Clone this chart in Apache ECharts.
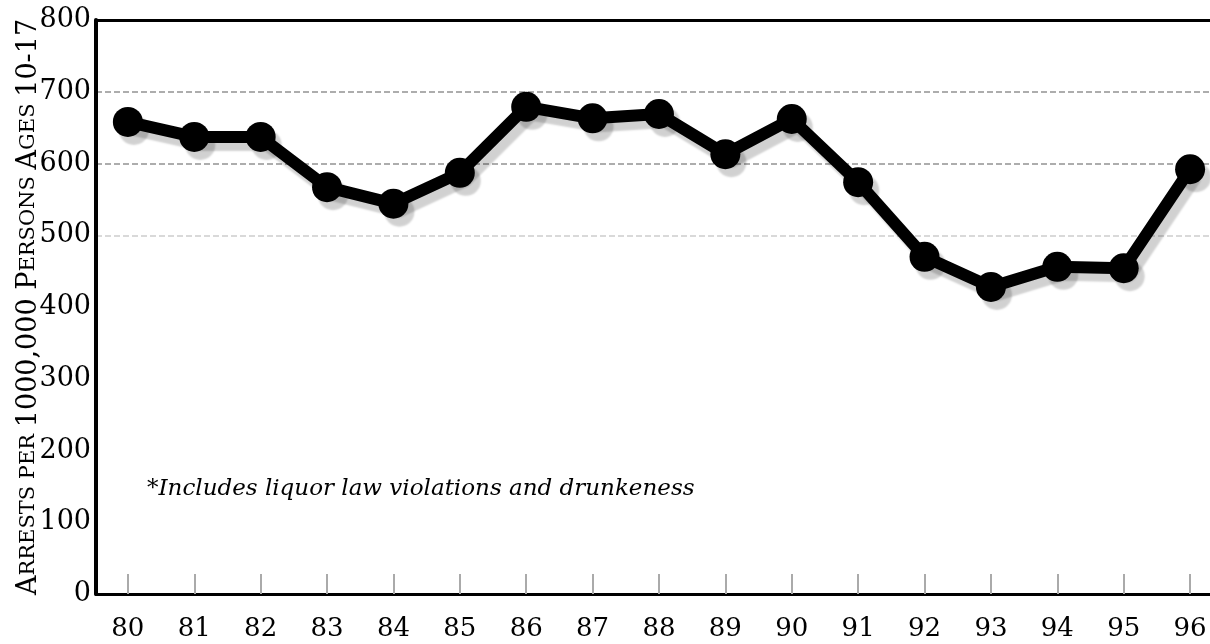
<!DOCTYPE html>
<html>
<head>
<meta charset="utf-8">
<script src="https://cdn.jsdelivr.net/npm/echarts@6/dist/echarts.min.js"></script>
<style>
  html, body { margin: 0; padding: 0; background: #fff; }
  #main { width: 1210px; height: 644px; }
</style>
</head>
<body>
<div id="main"></div>
<script>
var years = [80, 81, 82, 83, 84, 85, 86, 87, 88, 89, 90, 91, 92, 93, 94, 95, 96];
var arrests = [658, 637, 637, 567, 544, 587, 679, 663, 669, 613, 662, 574, 470, 428, 456, 454, 592];
var yTicks = [0, 100, 200, 300, 400, 500, 600, 700, 800];
var note = '*Includes liquor law violations and drunkeness';

var dom = document.getElementById('main');
var myChart = echarts.init(dom);

var points = [];
for (var i = 0; i < years.length; i++) {
    points.push([years[i], arrests[i]]);
}

// faint scanned-looking guide lines only at 500, 600, 700
var gridColors = [];
for (var k = 0; k < yTicks.length; k++) {
    if (yTicks[k] == 500) gridColors.push('rgba(0,0,0,0.15)');
    else if (yTicks[k] == 600 || yTicks[k] == 700) gridColors.push('rgba(0,0,0,0.32)');
    else gridColors.push('rgba(0,0,0,0)');
}

var serif = 'DejaVu Serif';

option = {
    backgroundColor: '#fff',
    animation: false,
    grid: {
        left: 96,
        right: 0,
        top: 20,
        bottom: 50,
        outerBoundsMode: 'none'
    },
    xAxis: [
        {
            type: 'value',
            min: 79.52,
            max: 96.3,
            axisLine: { show: true, lineStyle: { color: '#000', width: 3 } },
            axisTick: {
                show: true,
                inside: true,
                length: 20,
                customValues: years,
                lineStyle: { color: '#aaa', width: 2 }
            },
            axisLabel: {
                customValues: years,
                margin: 22,
                color: '#000',
                fontFamily: serif,
                fontSize: 26
            },
            splitLine: { show: false }
        },
        {
            type: 'value',
            position: 'top',
            min: 79.52,
            max: 96.3,
            axisLine: { show: true, lineStyle: { color: '#000', width: 3 } },
            axisTick: { show: false },
            axisLabel: { show: false },
            splitLine: { show: false }
        }
    ],
    yAxis: {
        type: 'value',
        min: 0,
        max: 800,
        interval: 100,
        name: '{c|A}{s|RRESTS PER }{c|1000,000 P}{s|ERSONS }{c|A}{s|GES }{c|10-17}',
        nameLocation: 'middle',
        nameGap: 54,
        nameMoveOverlap: false,
        nameTextStyle: {
            rich: {
                c: { fontFamily: serif, fontSize: 27, color: '#000' },
                s: { fontFamily: serif, fontSize: 21, color: '#000' }
            }
        },
        axisLine: { show: true, lineStyle: { color: '#000', width: 4 } },
        axisTick: { show: false },
        axisLabel: {
            margin: 5,
            color: '#000',
            fontFamily: serif,
            fontSize: 27
        },
        splitLine: {
            show: true,
            lineStyle: { color: gridColors, width: 2, type: [6, 3] }
        }
    },
    graphic: [
        {
            type: 'text',
            left: 147,
            top: 478,
            style: {
                text: note,
                fill: '#000',
                font: 'italic 23px "DejaVu Serif"'
            }
        }
    ],
    series: [
        {
            type: 'line',
            data: points,
            symbol: 'circle',
            symbolSize: 30,
            itemStyle: {
                color: '#000',
                shadowColor: 'rgba(0,0,0,0.18)',
                shadowOffsetX: 6,
                shadowOffsetY: 8,
                shadowBlur: 2
            },
            lineStyle: {
                color: '#000',
                width: 12,
                shadowColor: 'rgba(0,0,0,0.18)',
                shadowOffsetX: 6,
                shadowOffsetY: 8,
                shadowBlur: 2
            }
        }
    ]
};

myChart.setOption(option);
</script>
</body>
</html>
